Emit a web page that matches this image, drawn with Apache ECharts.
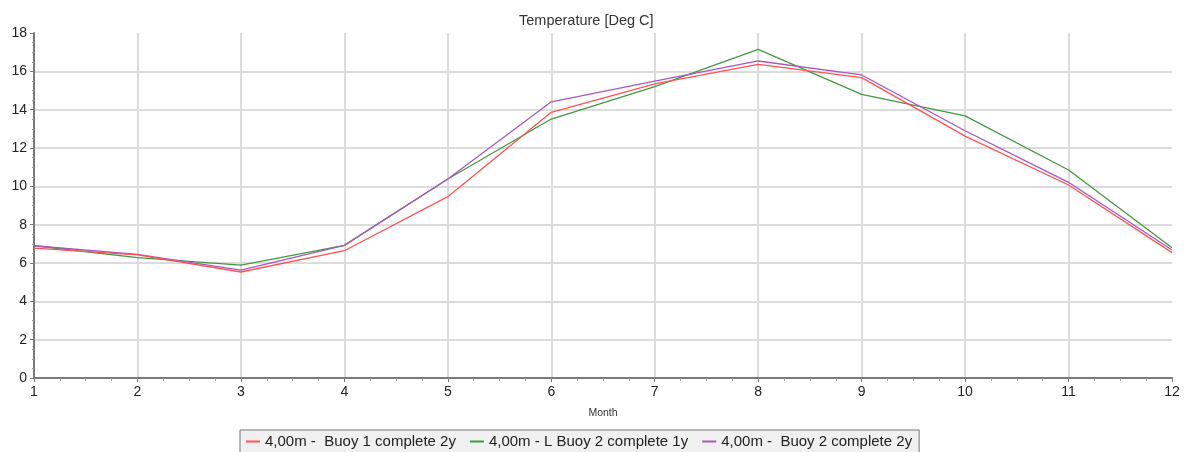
<!DOCTYPE html>
<html>
<head>
<meta charset="utf-8">
<script src="https://cdn.jsdelivr.net/npm/echarts@6/dist/echarts.min.js"></script>
<style>html,body{margin:0;padding:0;background:#fff;}#c{width:1193px;height:452px;}</style>
</head>
<body>
<div id="c"></div>
<script>
const months = [1, 2, 3, 4, 5, 6, 7, 8, 9, 10, 11, 12];
const buoy1_2y = [6.78, 6.42, 5.53, 6.64, 9.46, 13.86, 15.34, 16.36, 15.67, 12.62, 10.07, 6.54];
const buoy2L_1y = [6.90, 6.28, 5.89, 6.92, 10.38, 13.51, 15.20, 17.15, 14.80, 13.68, 10.85, 6.80];
const buoy2_2y = [6.90, 6.45, 5.63, 6.92, 10.38, 14.41, 15.49, 16.54, 15.81, 12.90, 10.21, 6.68];
const seriesNames = ['4,00m -  Buoy 1 complete 2y', '4,00m - L Buoy 2 complete 1y', '4,00m -  Buoy 2 complete 2y'];
const seriesColors = ['#ff5252', '#3f9b3f', '#a957bb'];

const pair = arr => months.map((m, i) => [m, arr[i]]);
const chart = echarts.init(document.getElementById('c'));
const font = 'Liberation Sans, Arial, sans-serif';
const allData = [buoy1_2y, buoy2L_1y, buoy2_2y];
const order = [1, 2, 0];
chart.setOption({
  animation: false,
  backgroundColor: '#fff',
  textStyle: { fontFamily: font },
  title: {
    text: 'Temperature [Deg C]', left: 514, top: 8,
    textStyle: { fontSize: 14.5, fontWeight: 'normal', color: '#333', fontFamily: font }
  },
  legend: {
    data: seriesNames,
    left: 240, top: 430,
    backgroundColor: '#f0f0f0', borderColor: '#777', borderWidth: 1,
    padding: [4, 7, 8, 6],
    itemWidth: 14, itemHeight: 2, itemGap: 14,
    icon: 'rect',
    textStyle: { fontSize: 15, color: '#222', fontFamily: font }
  },
  grid: { left: 34, right: 21, top: 33, bottom: 74 },
  xAxis: {
    type: 'value', min: 1, max: 12, interval: 1,
    name: 'Month', nameLocation: 'middle', nameGap: 30,
    nameTextStyle: { fontSize: 10.5, color: '#333', fontFamily: font },
    axisLine: { lineStyle: { color: '#7a7a7a', width: 2 } },
    axisTick: { show: true, length: 4, lineStyle: { color: '#7a7a7a' } },
    minorTick: { show: true, splitNumber: 4, length: 3, lineStyle: { color: '#999' } },
    axisLabel: { fontSize: 14, color: '#222', margin: 7, fontFamily: font },
    splitLine: { show: true, showMinLine: false, showMaxLine: false, lineStyle: { color: '#dcdcdc', width: 2 } }
  },
  yAxis: {
    type: 'value', min: 0, max: 18, interval: 2,
    axisLine: { show: true, lineStyle: { color: '#7a7a7a', width: 2 } },
    axisTick: { show: true, length: 4, lineStyle: { color: '#7a7a7a' } },
    minorTick: { show: true, splitNumber: 4, length: 2, lineStyle: { color: '#999' } },
    axisLabel: { fontSize: 14, color: '#222', margin: 7, fontFamily: font },
    splitLine: { show: true, showMinLine: false, showMaxLine: false, lineStyle: { color: '#dcdcdc', width: 2 } }
  },
  series: order.map(i => ({
    name: seriesNames[i], type: 'line', data: pair(allData[i]),
    showSymbol: false, symbol: 'none',
    lineStyle: { color: seriesColors[i], width: 1.3 },
    itemStyle: { color: seriesColors[i] }
  }))
});
</script>
</body>
</html>
